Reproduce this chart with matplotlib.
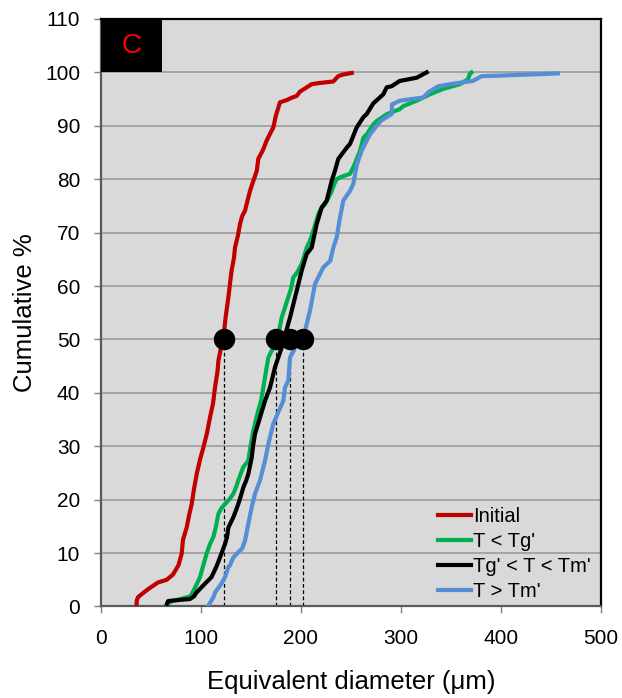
import numpy as np
import matplotlib as mpl
mpl.rcParams['font.family'] = ['Liberation Sans', 'DejaVu Sans']
import matplotlib.pyplot as plt
from matplotlib.patches import Rectangle

# cumulative size distributions (x: um, y: %)
initial_x = [35.5, 35.8, 37.3, 44, 49, 57, 65.7, 72, 77.4, 80.7, 82, 85.7, 88, 90.7, 93, 95.7,
             99, 102.4, 106, 109, 112, 114, 116.5, 117.4, 119.5, 122.3, 124.5, 127.4, 129, 130.6,
             133, 134, 137, 139, 141, 144, 146.5, 149, 152, 155.8, 157.3, 162, 165.6, 169, 172.3,
             175, 179, 185.5, 190, 195.7, 199, 210.7, 218, 232.3, 237.3, 242, 250.7]
initial_y = [0.3, 1.2, 1.8, 2.8, 3.5, 4.5, 5.0, 6.0, 7.7, 9.9, 12.5, 14.8, 17, 19.2, 22, 24.8,
             27.5, 29.8, 32.5, 35.4, 38, 41, 44, 46, 48, 50.1, 54, 57.9, 60.5, 62.9,
             65.3, 67.2, 69.5, 71.6, 73, 74.1, 76, 77.8, 79.5, 81.6, 83.8, 85.5, 87.2, 88.5, 89.7,
             92, 94.4, 94.8, 95.2, 95.6, 96.4, 97.8, 98, 98.3, 99.3, 99.6, 99.9]

tg_x = [66.5, 71, 89.5, 94, 99, 102, 105.6, 109, 112.3, 115, 117.3, 120, 124, 129, 132.3, 135,
        137.3, 140, 142.3, 147.3, 149.5, 152.3, 155, 157.3, 160, 162.3, 165, 167.3, 171, 175.6,
        178, 180.7, 184, 187.3, 190, 192.3, 196, 200.6, 203, 205.7, 209, 212.3, 215, 217.3, 220,
        224, 227.5, 230.8, 233, 235.7, 241, 249, 253, 259, 262.5, 265.7, 272.5, 275.8, 286,
        298.5, 302.5, 315.6, 329, 342, 359, 367, 369, 370.5]
tg_y = [0.5, 1.0, 1.9, 3.5, 5.5, 7.5, 9.9, 11.7, 13, 15, 17.3, 18.3, 19.2, 20.2, 21.1, 22.3,
        23.6, 25, 26.1, 27.3, 30, 32.9, 35, 36.7, 38.5, 41, 44, 46.6, 48, 49.1,
        51.5, 54.1, 56, 57.9, 59.5, 61.6, 62.5, 64.1, 65.5, 67.2, 68.5, 70.3, 72, 73.5, 74.5,
        75.3, 76.5, 77.8, 79, 80, 80.5, 81, 82.5, 85.3, 87.8, 88.4, 90.3, 90.9, 92.2,
        93.1, 93.7, 94.7, 95.9, 96.9, 97.8, 98.7, 99.8, 100]

mid_x = [66, 67, 71, 89, 93, 95, 102, 110.5, 115.5, 119, 124, 126, 127.4, 132.3, 135, 137.3,
         140, 142.3, 145, 147.3, 150.7, 152, 154, 159, 164, 167, 169, 174, 180.7, 189, 195.7,
         200.7, 205.7, 210.7, 215.7, 220.7, 225.7, 230.7, 234, 237.3, 245.7, 249, 255.7, 262.3,
         265.7, 272.3, 282.3, 285.7, 290.6, 298.8, 315.6, 325.7]
mid_y = [0.5, 1.0, 1.1, 1.4, 1.9, 2.5, 3.9, 5.5, 7.5, 9.2, 11.7, 13, 14.8, 16.7, 18, 19.2,
         20.8, 22.3, 23.5, 24.8, 27.9, 30, 32.3, 35.4, 38.5, 40, 41, 44.8, 48.5, 54.1, 59.1,
         62.9, 66, 67.2, 71.6, 74.7, 76, 79.7, 81.6, 83.8, 85.9, 86.6, 89.7, 91.6,
         92.2, 94.2, 95.9, 97.2, 97.4, 98.4, 99, 100]

tm_x = [107.5, 112.3, 114.3, 119, 122.3, 124, 127.4, 129, 132.3, 134, 139, 141, 144, 147.3,
        150.7, 154, 159, 164, 167.3, 172.3, 177.3, 182.3, 184, 187.3, 189, 193, 195.7, 204, 209,
        214, 222.3, 229.2, 232.3, 235.7, 239, 242.3, 249, 252.3, 256, 260.5, 269, 279.5, 290.6,
        291, 299, 322.4, 327.4, 337.3, 349, 372, 380.7, 398.7, 457]
tm_y = [0.2, 1.7, 2.7, 3.9, 4.9, 5.5, 7.4, 7.7, 9.2, 9.5, 10.5, 10.8, 12.3, 15.5,
        18.6, 21.1, 23.6, 27.3, 30.4, 34.2, 36.4, 38.5, 41, 42.3, 46.6, 48, 49.8, 51.6, 55.4,
        60.4, 63.5, 64.7, 67.2, 69.1, 72.8, 76, 77.8, 79.1, 82.8, 85.3, 88.4, 90.9, 92.2,
        94, 94.7, 95.3, 96.3, 97.4, 97.8, 98.4, 99.3, 99.4, 99.8]

labels = ["Initial", "T < Tg'", "Tg' < T < Tm'", "T > Tm'"]
colors = ['#C00000', '#00B050', '#000000', '#558ED5']
d50 = [123, 175, 189.3, 201.7]

fig = plt.figure(figsize=(6.22, 6.98), dpi=100)
ax = fig.add_axes([0.1624, 0.1311, 0.8038, 0.8417])
ax.set_facecolor('#D9D9D9')

series = [(initial_x, initial_y), (tg_x, tg_y), (mid_x, mid_y), (tm_x, tm_y)]
for (xs, ys), lab, col in zip(series, labels, colors):
    ax.plot(xs, ys, color=col, lw=3, label=lab, zorder=3)

# D50 markers and dashed drop lines
for d in d50:
    ax.plot([d, d], [0, 50], color='black', lw=0.9, ls=(0, (3, 2)), zorder=2)
ax.plot(d50, [50] * len(d50), 'o', color='black', ms=14.4, zorder=4)

ax.set_xlim(0, 500)
ax.set_ylim(0, 110)
ax.set_xticks(np.arange(0, 501, 100))
ax.set_yticks(np.arange(0, 111, 10))
ax.yaxis.grid(True, color='#A0A0A0', lw=1.3)
ax.set_axisbelow(True)
ax.tick_params(direction='out', length=5, width=1, color='#808080', labelsize=15)
ax.tick_params(axis='x', pad=11)
ax.tick_params(axis='y', pad=10)

for s in ['top', 'right']:
    ax.spines[s].set_color('black')
    ax.spines[s].set_linewidth(1.6)
for s in ['left', 'bottom']:
    ax.spines[s].set_color('#595959')
    ax.spines[s].set_linewidth(1.6)

ax.set_xlabel("Equivalent diameter (μm)", fontsize=18.5, labelpad=16)
ax.set_ylabel("Cumulative %", fontsize=18.5, labelpad=6)

# panel letter box
ax.add_patch(Rectangle((0, 100), 61, 10, facecolor='black', edgecolor='none', zorder=5, clip_on=False))
ax.text(30.5, 105, "C", color='#FF0000', fontsize=20, ha='center', va='center', zorder=6)

leg = ax.legend(loc='lower left', bbox_to_anchor=(0.642, -0.018), frameon=False, fontsize=14.5,
                handlelength=1.65, handletextpad=0.1, labelspacing=0.3, borderpad=0.3)

plt.savefig("out.png", dpi=100)
